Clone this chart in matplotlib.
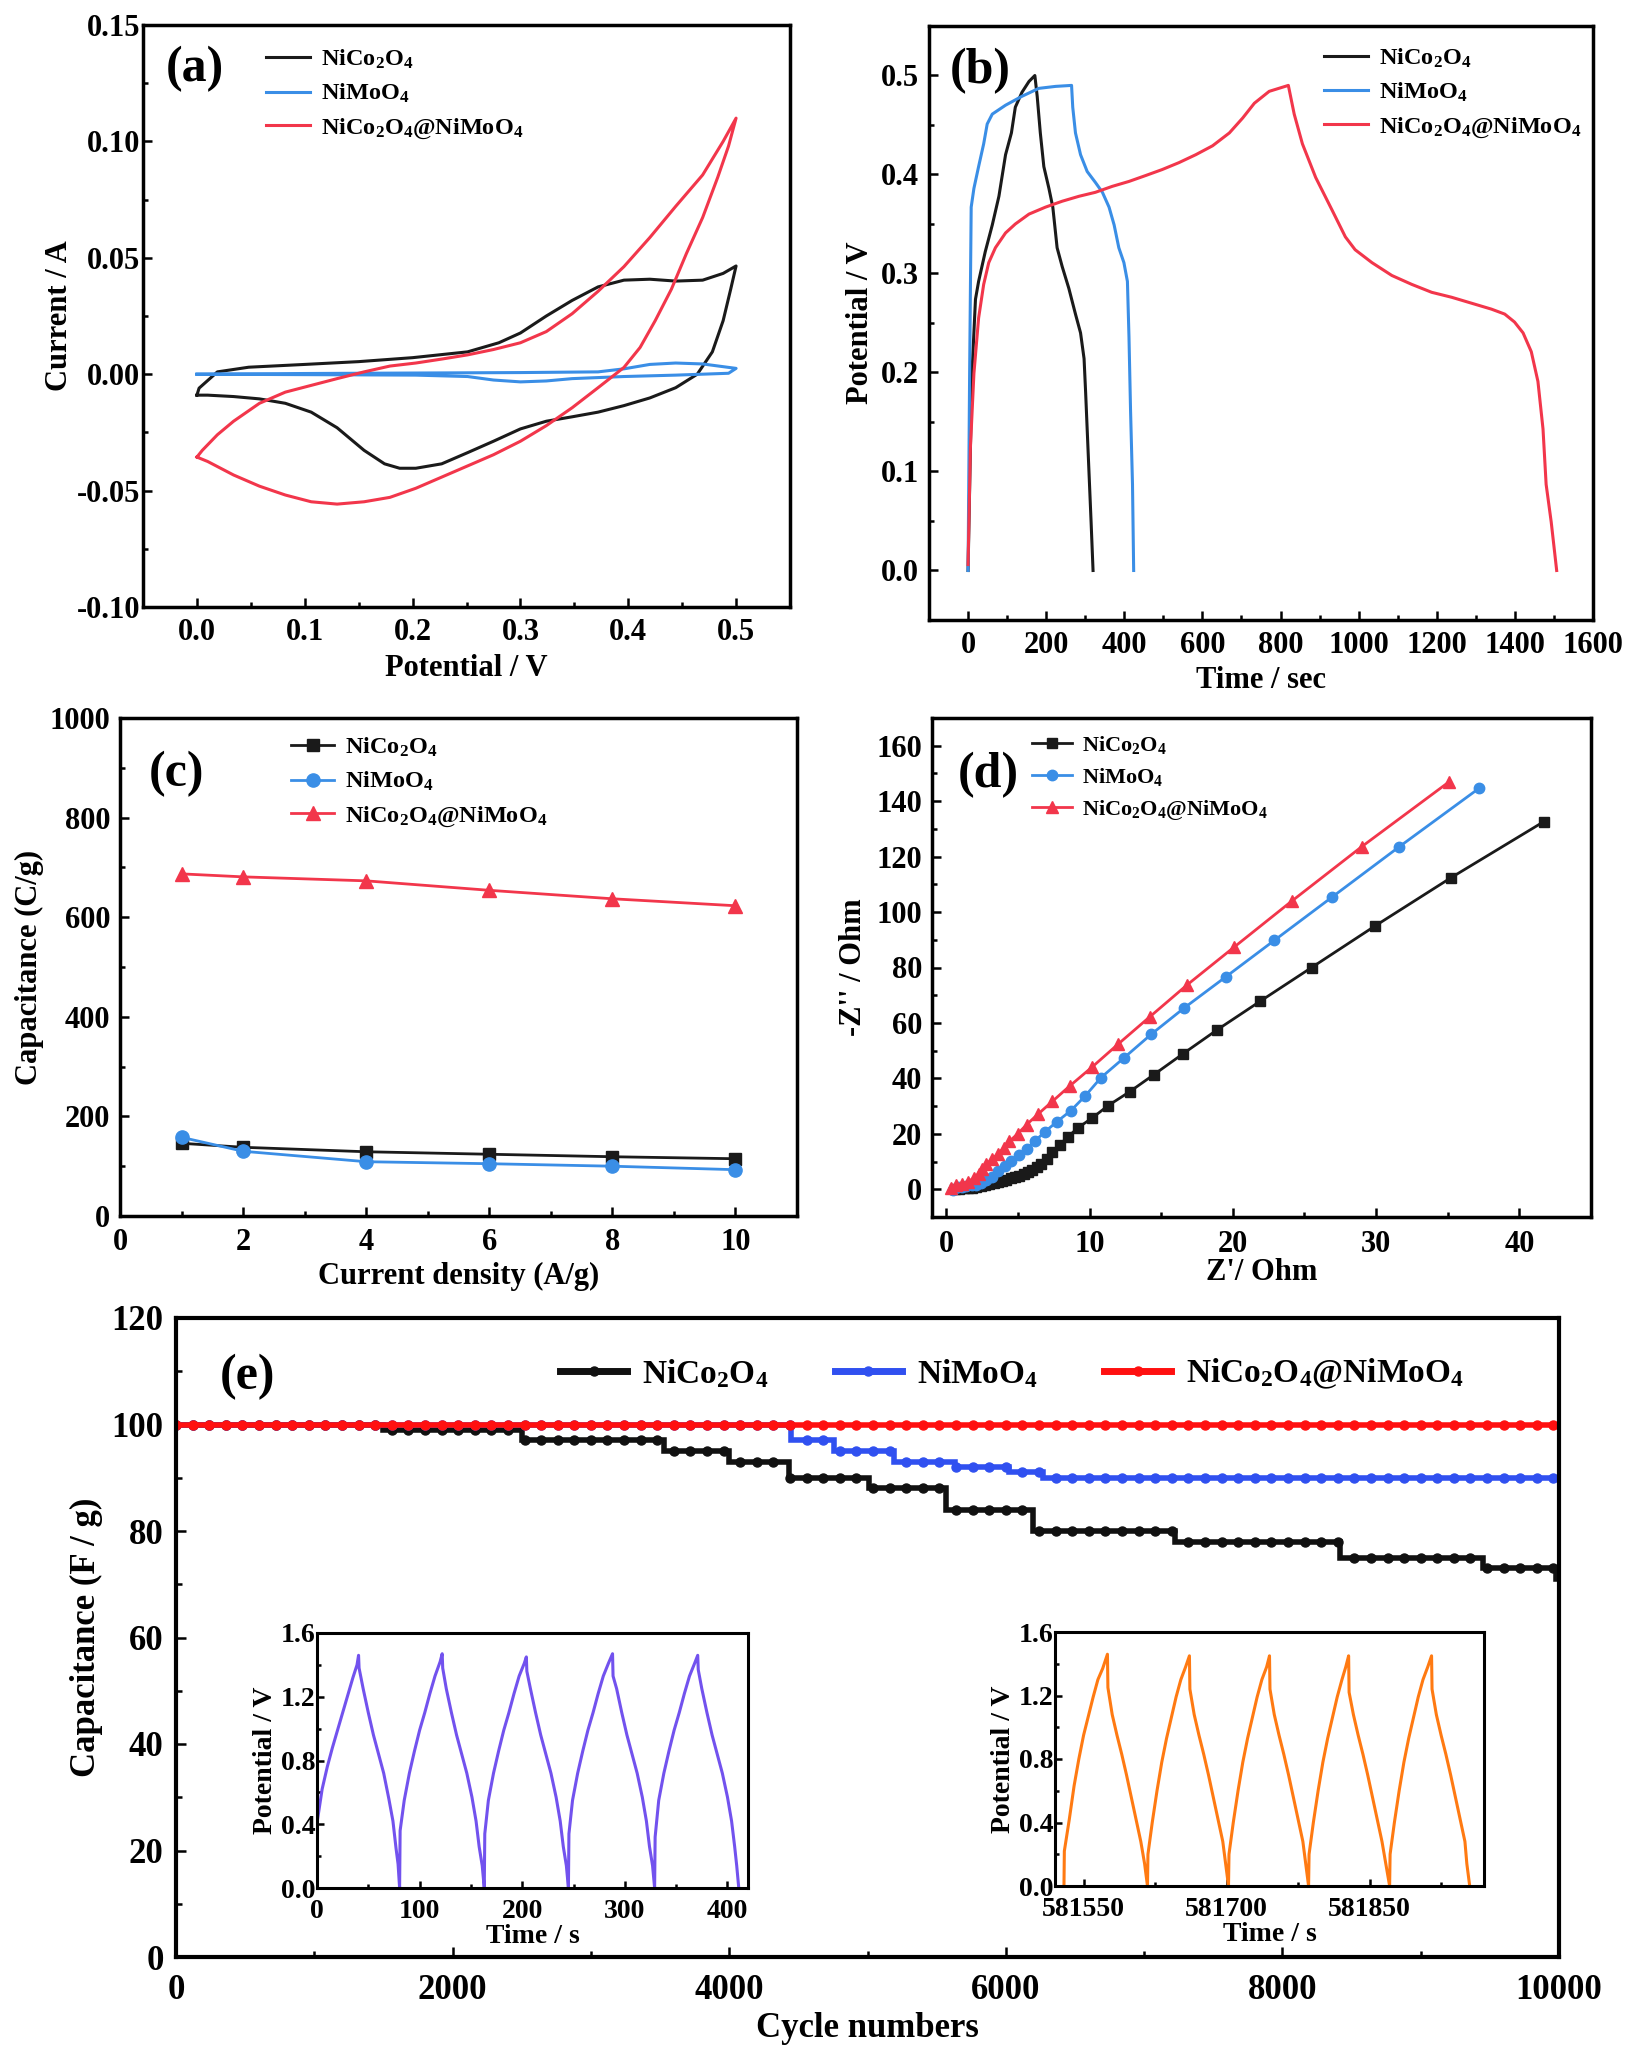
import numpy as np
import matplotlib
matplotlib.use("Agg")
import matplotlib.pyplot as plt
from matplotlib.lines import Line2D
from matplotlib.ticker import MultipleLocator, FormatStrFormatter, FixedLocator

# ── 字型設定 ──────────────────────────────────────────────────────────────────
plt.rcParams["font.family"] = ["Liberation Serif", "DejaVu Serif"]
plt.rcParams["font.weight"] = "bold"
plt.rcParams["axes.labelweight"] = "bold"
plt.rcParams["mathtext.fontset"] = "custom"
plt.rcParams["mathtext.rm"] = "Liberation Serif:bold"
plt.rcParams["mathtext.bf"] = "Liberation Serif:bold"
plt.rcParams["mathtext.it"] = "Liberation Serif:bold"
plt.rcParams["mathtext.default"] = "rm"

LBL_NCO = r"NiCo$_2$O$_4$"
LBL_NMO = r"NiMoO$_4$"
LBL_MIX = r"NiCo$_2$O$_4$@NiMoO$_4$"

# ── (a) CV ────────────────────────────────────────────────────────────────────
cv_nco_v = [0.0, 0.002, 0.019, 0.048, 0.1, 0.15, 0.2, 0.251, 0.28, 0.3, 0.324, 0.348,
            0.372, 0.396, 0.42, 0.444, 0.469, 0.488, 0.5,
            0.495, 0.488, 0.478, 0.464, 0.444, 0.42, 0.396, 0.372, 0.348, 0.324, 0.3,
            0.275, 0.251, 0.227, 0.203, 0.188, 0.174, 0.155, 0.13, 0.106, 0.082, 0.058,
            0.034, 0.01, 0.0]
cv_nco_i = [-0.009, -0.006, 0.001, 0.003, 0.0042, 0.0054, 0.0071, 0.0096, 0.0135, 0.0177,
            0.025, 0.0317, 0.0375, 0.0404, 0.0408, 0.04, 0.0404, 0.0433, 0.0465,
            0.0365, 0.023, 0.0096, 0.0, -0.0058, -0.0102, -0.0135, -0.0163, -0.0183,
            -0.0202, -0.0235, -0.0288, -0.0337, -0.0385, -0.0404, -0.0404, -0.0385,
            -0.0327, -0.023, -0.0163, -0.0125, -0.0106, -0.0096, -0.009, -0.009]

cv_nmo_v = [0.0, 0.1, 0.2, 0.3, 0.372, 0.396, 0.42, 0.444, 0.469, 0.5,
            0.493, 0.444, 0.396, 0.348, 0.324, 0.3, 0.275, 0.251, 0.203, 0.106, 0.0]
cv_nmo_i = [0.0, 0.0003, 0.0005, 0.0007, 0.001, 0.0023, 0.0042, 0.0048, 0.0044, 0.0025,
            0.0004, -0.0004, -0.001, -0.0019, -0.0029, -0.0033, -0.0025, -0.001,
            -0.0004, -0.0002, 0.0]

cv_mix_v = [0.0, 0.005, 0.019, 0.034, 0.058, 0.082, 0.106, 0.13, 0.155, 0.179, 0.203,
            0.227, 0.251, 0.275, 0.3, 0.324, 0.348, 0.372, 0.396, 0.42, 0.444, 0.469,
            0.488, 0.5,
            0.493, 0.483, 0.469, 0.454, 0.44, 0.425, 0.411, 0.396, 0.372, 0.348, 0.324,
            0.3, 0.275, 0.251, 0.227, 0.203, 0.179, 0.155, 0.13, 0.106, 0.082, 0.058,
            0.034, 0.01, 0.0]
cv_mix_i = [-0.0356, -0.0327, -0.026, -0.0202, -0.0125, -0.0077, -0.0048, -0.0019, 0.001,
            0.0035, 0.0048, 0.0065, 0.0083, 0.0106, 0.0135, 0.0183, 0.026, 0.0356, 0.0462,
            0.0587, 0.0721, 0.0856, 0.1, 0.11,
            0.098, 0.0846, 0.0673, 0.0519, 0.0365, 0.023, 0.0115, 0.0029, -0.0058,
            -0.0144, -0.0221, -0.0288, -0.0346, -0.0394, -0.0442, -0.049, -0.0529,
            -0.0548, -0.0558, -0.0548, -0.0519, -0.0481, -0.0433, -0.0375, -0.0356]

# ── (b) GCD ───────────────────────────────────────────────────────────────────
gcd_nco_t = [0, 6, 10, 19, 27, 44, 62, 79, 96, 111, 121, 138, 156, 171,
             177, 185, 194, 207, 217, 228, 241, 258, 275, 288, 297, 301, 309, 315, 320]
gcd_nco_u = [0.0, 0.124, 0.199, 0.274, 0.292, 0.322, 0.349, 0.378, 0.42, 0.442, 0.468,
             0.483, 0.494, 0.5,
             0.479, 0.442, 0.408, 0.386, 0.367, 0.326, 0.307, 0.285, 0.259, 0.24, 0.214,
             0.18, 0.105, 0.049, 0.0]

gcd_nmo_t = [0, 4, 8, 15, 27, 40, 49, 62, 96, 138, 181, 224, 265,
             268, 275, 288, 305, 326, 344, 361, 374, 386, 399, 408, 412, 416, 421, 424]
gcd_nmo_u = [0.0, 0.199, 0.367, 0.386, 0.408, 0.431, 0.451, 0.461, 0.47, 0.479, 0.487,
             0.489, 0.49,
             0.468, 0.442, 0.42, 0.403, 0.392, 0.382, 0.367, 0.349, 0.326, 0.311, 0.292,
             0.236, 0.162, 0.087, 0.0]

gcd_mix_t = [0, 6, 15, 27, 40, 53, 70, 96, 121, 156, 198, 241, 284, 326, 369, 412, 455,
             497, 540, 583, 626, 669, 703, 733, 771, 820,
             835, 856, 890, 932, 966, 991, 1034, 1085, 1136, 1187, 1238, 1289, 1340,
             1374, 1399, 1421, 1442, 1459, 1472, 1480, 1493, 1507]
gcd_mix_u = [0.006, 0.124, 0.199, 0.255, 0.289, 0.311, 0.326, 0.341, 0.35, 0.36, 0.367,
             0.373, 0.378, 0.382, 0.388, 0.393, 0.399, 0.405, 0.412, 0.42, 0.429, 0.442,
             0.457, 0.472, 0.484, 0.49,
             0.461, 0.431, 0.397, 0.364, 0.337, 0.324, 0.311, 0.298, 0.289, 0.281, 0.276,
             0.27, 0.264, 0.259, 0.251, 0.24, 0.221, 0.191, 0.143, 0.087, 0.049, 0.0]

# ── (c) rate ──────────────────────────────────────────────────────────────────
rate_j = [1, 2, 4, 6, 8, 10]
rate_nco = [146, 138, 129, 124, 119, 115]
rate_nmo = [158, 130, 109, 105, 100, 93]
rate_mix = [687, 681, 673, 654, 637, 623]

# ── (d) EIS ───────────────────────────────────────────────────────────────────
eis_nco_re = [0.6, 0.9, 1.2, 1.5, 1.8, 2.1, 2.4, 2.7, 3.0, 3.3, 3.6, 3.9, 4.2, 4.5, 4.8,
              5.1, 5.4, 5.7, 6.0, 6.3, 6.6, 7.0, 7.4, 7.9, 8.5, 9.2, 10.2, 11.3, 12.8,
              14.5, 16.5, 18.9, 21.9, 25.5, 29.9, 35.2, 41.7]
eis_nco_im = [0.0, 0.2, 0.3, 0.4, 0.6, 0.8, 1.1, 1.5, 1.9, 2.3, 2.7, 3.1, 3.5, 3.9, 4.4,
              4.9, 5.5, 6.2, 7.0, 8.0, 9.2, 11.0, 13.3, 16.0, 19.0, 22.2, 25.8, 30.2,
              35.2, 41.4, 48.8, 57.5, 67.8, 80.0, 94.9, 112.3, 132.6]

eis_nmo_re = [0.5, 0.8, 1.1, 1.4, 1.8, 2.1, 2.4, 2.8, 3.2, 3.6, 4.1, 4.5, 5.1, 5.6, 6.2,
              6.9, 7.7, 8.7, 9.7, 10.8, 12.4, 14.3, 16.6, 19.5, 22.9, 26.9, 31.6, 37.2]
eis_nmo_im = [-0.3, 0.7, 1.0, 1.2, 1.4, 1.7, 2.1, 3.2, 4.6, 6.5, 8.3, 10.2, 12.5, 14.7,
              17.5, 20.8, 24.3, 28.4, 33.7, 40.3, 47.4, 55.9, 65.4, 76.6, 89.8, 105.3,
              123.5, 144.7]

eis_mix_re = [0.3, 0.65, 1.1, 1.5, 1.9, 2.3, 2.5, 2.8, 3.2, 3.6, 4.0, 4.4, 5.0, 5.6, 6.4,
              7.4, 8.6, 10.2, 12.0, 14.2, 16.8, 20.1, 24.1, 29.0, 35.1]
eis_mix_im = [0.4, 1.4, 1.8, 2.8, 3.9, 5.5, 7.4, 9.1, 10.9, 12.8, 14.9, 17.3, 20.1, 23.3,
              27.1, 31.7, 37.2, 44.2, 52.4, 62.2, 73.7, 87.4, 103.9, 123.6, 147.0]

# ── (e) cycling（階梯轉折點） ─────────────────────────────────────────────────
cyc_nco_n = [0, 1500, 2500, 3530, 4000, 4430, 5010, 5570, 6200, 7220, 8420, 9450, 9980, 10000]
cyc_nco_c = [100, 99, 97, 95, 93, 90, 88, 84, 80, 78, 75, 73, 71, 71]
cyc_nmo_n = [0, 4450, 4760, 5190, 5630, 6020, 6270, 10000]
cyc_nmo_c = [100, 97, 95, 93, 92, 91, 90, 90]
cyc_mix_n = [0, 10000]
cyc_mix_c = [100, 100]
MARK_STEP = 120

# inset 1（前 5 圈）
in1_t = [0, 0.3, 5, 10, 15, 20, 25, 30, 35, 39, 40.5,
         41, 45, 50, 55, 60, 65, 70, 74, 77, 79, 80.5,
         81, 85, 90, 95, 100, 105, 110, 115, 120, 122,
         122.5, 126, 131, 136, 141, 146, 151, 155, 158, 161, 163,
         163.5, 167, 172, 177, 182, 187, 192, 197, 202, 204,
         204.5, 208, 213, 218, 223, 228, 233, 237, 240, 243, 245,
         245.5, 249, 254, 259, 264, 269, 274, 279, 284, 288,
         288.5, 292, 297, 302, 307, 312, 317, 321, 324, 327, 329,
         329.5, 333, 338, 343, 348, 353, 358, 363, 368, 371,
         371.5, 375, 380, 385, 390, 395, 400, 404, 407, 409, 411]
in1_u = [0.0, 0.42, 0.62, 0.76, 0.88, 0.99, 1.10, 1.21, 1.32, 1.40, 1.46,
         1.38, 1.25, 1.10, 0.96, 0.84, 0.72, 0.56, 0.42, 0.25, 0.15, 0.0,
         0.36, 0.55, 0.72, 0.86, 0.99, 1.10, 1.22, 1.33, 1.42, 1.47,
         1.38, 1.25, 1.10, 0.96, 0.84, 0.72, 0.57, 0.42, 0.26, 0.14, 0.0,
         0.34, 0.55, 0.72, 0.86, 0.99, 1.10, 1.22, 1.33, 1.41, 1.45,
         1.36, 1.25, 1.10, 0.96, 0.84, 0.72, 0.57, 0.42, 0.26, 0.14, 0.0,
         0.34, 0.55, 0.72, 0.86, 0.99, 1.10, 1.22, 1.33, 1.41, 1.47,
         1.33, 1.25, 1.10, 0.96, 0.84, 0.72, 0.57, 0.42, 0.26, 0.14, 0.0,
         0.32, 0.55, 0.72, 0.86, 0.99, 1.10, 1.22, 1.33, 1.41, 1.46,
         1.37, 1.25, 1.10, 0.96, 0.84, 0.72, 0.57, 0.42, 0.26, 0.14, 0.0]

# inset 2（最後 5 圈）
in2_t = [581529.4, 581529.8, 581535, 581540, 581545, 581550, 581555, 581560, 581565, 581570, 581575,
         581575.5, 581580, 581585, 581590, 581595, 581600, 581605, 581610, 581614, 581617,
         581617.5, 581622, 581627, 581632, 581637, 581642, 581647, 581652, 581657, 581661,
         581661.5, 581666, 581671, 581676, 581681, 581686, 581691, 581696, 581699, 581702,
         581702.5, 581707, 581712, 581717, 581722, 581727, 581732, 581737, 581742, 581745,
         581745.5, 581750, 581755, 581760, 581765, 581770, 581775, 581780, 581783, 581786,
         581786.5, 581791, 581796, 581801, 581806, 581811, 581816, 581821, 581825, 581828,
         581828.5, 581833, 581838, 581843, 581848, 581853, 581858, 581863, 581867, 581871,
         581871.5, 581876, 581881, 581886, 581891, 581896, 581901, 581906, 581911, 581915,
         581915.5, 581920, 581925, 581930, 581935, 581940, 581945, 581950, 581952, 581955]
in2_u = [0.0, 0.22, 0.42, 0.63, 0.80, 0.95, 1.07, 1.19, 1.30, 1.37, 1.46,
         1.25, 1.08, 0.95, 0.83, 0.70, 0.56, 0.42, 0.28, 0.14, 0.0,
         0.20, 0.40, 0.60, 0.78, 0.93, 1.06, 1.19, 1.30, 1.38, 1.45,
         1.24, 1.08, 0.95, 0.83, 0.70, 0.56, 0.42, 0.28, 0.14, 0.0,
         0.20, 0.40, 0.60, 0.78, 0.93, 1.06, 1.19, 1.30, 1.38, 1.45,
         1.24, 1.08, 0.95, 0.83, 0.70, 0.56, 0.42, 0.28, 0.14, 0.0,
         0.20, 0.40, 0.60, 0.78, 0.93, 1.06, 1.19, 1.30, 1.38, 1.45,
         1.22, 1.08, 0.95, 0.83, 0.70, 0.56, 0.42, 0.28, 0.14, 0.0,
         0.20, 0.40, 0.60, 0.78, 0.93, 1.06, 1.19, 1.30, 1.38, 1.45,
         1.24, 1.08, 0.95, 0.83, 0.70, 0.56, 0.42, 0.28, 0.14, 0.0]

# ── 顏色 ──────────────────────────────────────────────────────────────────────
BLACK = "#1a1a1a"
BLUE = "#3a8ee6"
RED = "#f2364b"
E_BLACK = "#111111"
E_BLUE = "#3050f0"
E_RED = "#ff1010"
PURPLE = "#7252ee"
ORANGE = "#ff7a12"

W, H = 1628, 2052
fig = plt.figure(figsize=(W / 100, H / 100), dpi=100)


def add_ax(l, t, r, b):
    return fig.add_axes([l / W, 1 - b / H, (r - l) / W, (b - t) / H])


def style(ax, size, padx, pady, lw=2.5, maj=6.5, mnr=3.5):
    for s in ax.spines.values():
        s.set_linewidth(lw)
    ax.tick_params(which="both", direction="in", top=False, right=False, width=1.8)
    ax.tick_params(which="major", length=maj)
    ax.tick_params(which="minor", length=mnr)
    ax.tick_params(axis="x", labelsize=size, pad=padx)
    ax.tick_params(axis="y", labelsize=size, pad=pady)


def small_legend(ax, x, y, fs):
    ax.legend(loc="center", bbox_to_anchor=(x, y), frameon=False, fontsize=fs,
              handlelength=1.8, handletextpad=0.45, labelspacing=0.45)


# ── (a) ───────────────────────────────────────────────────────────────────────
ax = add_ax(143, 25, 790, 607)
ax.plot(cv_nco_v, cv_nco_i, color=BLACK, lw=2.2, label=LBL_NCO)
ax.plot(cv_nmo_v, cv_nmo_i, color=BLUE, lw=2.2, label=LBL_NMO)
ax.plot(cv_mix_v, cv_mix_i, color=RED, lw=2.2, label=LBL_MIX)
ax.set_xlim(-0.05, 0.55)
ax.set_ylim(-0.10, 0.15)
ax.xaxis.set_major_locator(MultipleLocator(0.1))
ax.xaxis.set_minor_locator(MultipleLocator(0.05))
ax.yaxis.set_major_locator(MultipleLocator(0.05))
ax.yaxis.set_minor_locator(MultipleLocator(0.025))
ax.xaxis.set_major_formatter(FormatStrFormatter("%.1f"))
ax.yaxis.set_major_formatter(FormatStrFormatter("%.2f"))
style(ax, 22, 8, 2)
ax.set_xlabel("Potential / V", fontsize=22, labelpad=5)
ax.set_ylabel("Current / A", fontsize=22, labelpad=2)
small_legend(ax, 0.389, 0.881, 17.5)
ax.text(0.08, 0.924, "(a)", transform=ax.transAxes, fontsize=36, ha="center", va="center")

# ── (b) ───────────────────────────────────────────────────────────────────────
ax = add_ax(929, 26, 1593, 620)
ax.plot(gcd_nco_t, gcd_nco_u, color=BLACK, lw=2.2, label=LBL_NCO)
ax.plot(gcd_nmo_t, gcd_nmo_u, color=BLUE, lw=2.2, label=LBL_NMO)
ax.plot(gcd_mix_t, gcd_mix_u, color=RED, lw=2.2, label=LBL_MIX)
ax.set_xlim(-100, 1600)
ax.set_ylim(-0.05, 0.55)
ax.xaxis.set_major_locator(MultipleLocator(200))
ax.xaxis.set_minor_locator(MultipleLocator(100))
ax.yaxis.set_major_locator(MultipleLocator(0.1))
ax.yaxis.set_minor_locator(MultipleLocator(0.05))
ax.yaxis.set_major_formatter(FormatStrFormatter("%.1f"))
style(ax, 22, 8, 7)
ax.set_xlabel("Time / sec", fontsize=22, labelpad=4)
ax.set_ylabel("Potential / V", fontsize=22, labelpad=4)
small_legend(ax, 0.789, 0.887, 17.5)
ax.text(0.077, 0.924, "(b)", transform=ax.transAxes, fontsize=36, ha="center", va="center")

# ── (c) ───────────────────────────────────────────────────────────────────────
ax = add_ax(120, 718, 797, 1216)
ax.plot(rate_j, rate_nco, color=BLACK, lw=2.0, marker="s", ms=9, label=LBL_NCO)
ax.plot(rate_j, rate_nmo, color=BLUE, lw=2.0, marker="o", ms=9.5, label=LBL_NMO)
ax.plot(rate_j, rate_mix, color=RED, lw=2.0, marker="^", ms=10, label=LBL_MIX)
ax.set_xlim(0, 11)
ax.set_ylim(0, 1000)
ax.xaxis.set_major_locator(MultipleLocator(2))
ax.xaxis.set_minor_locator(MultipleLocator(1))
ax.yaxis.set_major_locator(MultipleLocator(200))
ax.yaxis.set_minor_locator(MultipleLocator(100))
style(ax, 22, 9, 7)
ax.set_xlabel("Current density (A/g)", fontsize=22, labelpad=3)
ax.set_ylabel("Capacitance (C/g)", fontsize=22, labelpad=4)
small_legend(ax, 0.442, 0.871, 17.5)
ax.text(0.083, 0.888, "(c)", transform=ax.transAxes, fontsize=36, ha="center", va="center")

# ── (d) ───────────────────────────────────────────────────────────────────────
ax = add_ax(932, 718, 1591, 1217)
ax.plot(eis_nco_re, eis_nco_im, color=BLACK, lw=2.0, marker="s", ms=7.5, label=LBL_NCO)
ax.plot(eis_nmo_re, eis_nmo_im, color=BLUE, lw=2.0, marker="o", ms=7.5, label=LBL_NMO)
ax.plot(eis_mix_re, eis_mix_im, color=RED, lw=2.0, marker="^", ms=8.5, label=LBL_MIX)
ax.set_xlim(-1, 45)
ax.set_ylim(-10, 170)
ax.xaxis.set_major_locator(MultipleLocator(10))
ax.xaxis.set_minor_locator(MultipleLocator(5))
ax.yaxis.set_major_locator(MultipleLocator(20))
ax.yaxis.set_minor_locator(MultipleLocator(10))
style(ax, 22, 9, 7)
ax.set_xlabel("Z'/ Ohm", fontsize=22, labelpad=0)
ax.set_ylabel("-Z'' / Ohm", fontsize=22, labelpad=6)
small_legend(ax, 0.331, 0.88, 16)
ax.text(0.085, 0.885, "(d)", transform=ax.transAxes, fontsize=36, ha="center", va="center")

# ── (e) ───────────────────────────────────────────────────────────────────────
ax = add_ax(176, 1318, 1559, 1957)
mark_n = np.arange(0, 10001, MARK_STEP)
series_e = [(cyc_nco_n, cyc_nco_c, E_BLACK, LBL_NCO),
            (cyc_nmo_n, cyc_nmo_c, E_BLUE, LBL_NMO),
            (cyc_mix_n, cyc_mix_c, E_RED, LBL_MIX)]
handles = []
for n, c, col, lab in series_e:
    n = np.asarray(n)
    c = np.asarray(c)
    ax.plot(n, c, color=col, lw=4, drawstyle="steps-post", solid_joinstyle="miter")
    # 標記：各固定圈數所在的階梯值
    idx = np.searchsorted(n, mark_n, side="right") - 1
    ax.plot(mark_n, c[idx], ls="none", marker="o", ms=6.5, color=col)
    handles.append(Line2D([], [], color=col, lw=5, marker="o", ms=6.5, label=lab))
ax.set_xlim(0, 10000)
ax.set_ylim(0, 120)
ax.xaxis.set_major_locator(MultipleLocator(2000))
ax.xaxis.set_minor_locator(MultipleLocator(1000))
ax.yaxis.set_major_locator(MultipleLocator(20))
ax.yaxis.set_minor_locator(MultipleLocator(10))
style(ax, 25, 12, 9, lw=3, maj=7.5, mnr=4)
ax.set_xlabel("Cycle numbers", fontsize=25, labelpad=4)
ax.set_ylabel("Capacitance (F / g)", fontsize=25, labelpad=6)
ax.legend(handles=handles, loc="center", bbox_to_anchor=(0.6045, 0.912), ncol=3,
          frameon=False, fontsize=24, handlelength=2.0, handletextpad=0.45,
          columnspacing=2.0, numpoints=1)
ax.text(0.052, 0.908, "(e)", transform=ax.transAxes, fontsize=36, ha="center", va="center")

# inset 1
ia = add_ax(317, 1633, 748, 1888)
ia.plot(in1_t, in1_u, color=PURPLE, lw=2.2)
ia.set_xlim(0, 420)
ia.set_ylim(0, 1.6)
ia.xaxis.set_major_locator(MultipleLocator(100))
ia.xaxis.set_minor_locator(MultipleLocator(50))
ia.yaxis.set_major_locator(MultipleLocator(0.4))
ia.yaxis.set_minor_locator(MultipleLocator(0.2))
ia.yaxis.set_major_formatter(FormatStrFormatter("%.1f"))
style(ia, 20, 8, 1, lw=2.2, maj=5, mnr=3)
ia.set_xlabel("Time / s", fontsize=20, labelpad=0)
ia.set_ylabel("Potential / V", fontsize=20, labelpad=2)

# inset 2
ib = add_ax(1055, 1632, 1484, 1886)
ib.plot(in2_t, in2_u, color=ORANGE, lw=2.2)
ib.set_xlim(581520, 581970)
ib.set_ylim(0, 1.6)
ib.xaxis.set_major_locator(FixedLocator([581550, 581700, 581850]))
ib.xaxis.set_minor_locator(FixedLocator([581625, 581775, 581925]))
ib.xaxis.set_major_formatter(FormatStrFormatter("%d"))
ib.yaxis.set_major_locator(MultipleLocator(0.4))
ib.yaxis.set_minor_locator(MultipleLocator(0.2))
ib.yaxis.set_major_formatter(FormatStrFormatter("%.1f"))
style(ib, 20, 8, 1, lw=2.2, maj=5, mnr=3)
ib.set_xlabel("Time / s", fontsize=20, labelpad=0)
ib.set_ylabel("Potential / V", fontsize=20, labelpad=2)

fig.savefig("out.png", dpi=100)
